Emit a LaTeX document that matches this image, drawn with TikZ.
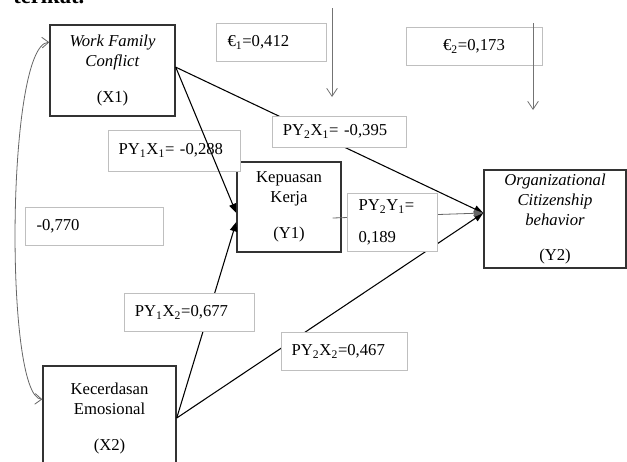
\documentclass[tikz,border=0pt]{standalone}
\usepackage{fontspec}
\setmainfont{Liberation Serif}
\usetikzlibrary{arrows.meta}
\begin{document}
\begin{tikzpicture}[x=0.75pt,y=-0.75pt,
  font=\fontsize{12.5}{15}\selectfont,
  varbox/.style={draw=black!80,line width=1.1pt,align=center,inner sep=0pt},
  coefbox/.style={draw=black!25,line width=0.6pt,fill=white,align=left,inner xsep=8pt,inner ysep=0pt},
  effarrow/.style={-{Triangle[length=7pt,width=5.5pt]},line width=0.8pt},
  erroarrow/.style={-{Straight Barb[length=6pt,width=8pt]},draw=black!55,line width=0.6pt}]
\useasboundingbox (0,0) rectangle (627,461);

\node[font=\fontsize{17}{20}\selectfont\bfseries,anchor=base west,inner sep=0pt] (lead) at (13,3) {terikat.};

% variables
\node[varbox,minimum width=93.75pt,minimum height=68.25pt] (X1) at (112.5,70.5) {\textit{Work Family}\\\textit{Conflict}\\[12pt](X1)};
\node[varbox,minimum width=78pt,minimum height=67.5pt] (Y1) at (289,207) {Kepuasan\\Kerja\\[12pt](Y1)};
\node[varbox,minimum width=106.5pt,minimum height=73.5pt] (Y2) at (555,219) {\textit{Organizational}\\\textit{Citizenship}\\\textit{behavior}\\[11pt](Y2)};
\node[varbox,minimum width=99.75pt,minimum height=78pt] (X2) at (109.5,418) {Kecerdasan\\Emosional\\[12pt](X2)};

% paths behind the labels
\draw[effarrow] ([yshift=2.5pt]X1.east) -- ([yshift=4.5pt]Y2.west);
\draw[effarrow] (X2.east) -- ([yshift=-11.25pt]Y1.west);
\draw[effarrow] (X2.east) -- ([yshift=4.5pt]Y2.west);
\draw[effarrow,draw=black!60,line width=0.6pt] ([xshift=-6.75pt,yshift=-8.25pt]Y1.east) -- ([yshift=4.5pt]Y2.west);

% coefficients
\node[coefbox,text width=83pt,minimum height=30.75pt] (b11) at (174,150.5) {PY\textsubscript{1}X\textsubscript{1}= -0,288};
\node[coefbox,text width=85pt,minimum height=23.25pt] (b21) at (339.5,131.5) {PY\textsubscript{2}X\textsubscript{1}= -0,395};
\node[coefbox,text width=82pt,minimum height=29pt] (b12) at (189.5,312.5) {PY\textsubscript{1}X\textsubscript{2}=0,677};
\node[coefbox,text width=78.5pt,minimum height=29pt] (b22) at (344,351.5) {PY\textsubscript{2}X\textsubscript{2}=0,467};
\node[coefbox,text width=51pt,minimum height=44pt] (byy) at (392.5,222.5) {PY\textsubscript{2}Y\textsubscript{1}=\\[9pt]0,189};
\node[coefbox,text width=87pt,minimum height=28.5pt] (corr) at (94.5,226) {-0,770};
\node[coefbox,text width=66pt,minimum height=29pt] (e1) at (271.5,42.5) {€\textsubscript{1}=0,412};
\node[coefbox,align=center,text width=86pt,minimum height=29pt] (e2) at (474,46.5) {€\textsubscript{2}=0,173};

\draw[effarrow] ([yshift=2.5pt]X1.east) -- ([yshift=-4.5pt]Y1.west);

% residuals
\coordinate (e1a) at (332,8);
\coordinate (e1b) at (332,97);
\draw[erroarrow] (e1a) -- (e1b);
\coordinate (e2a) at (533,23);
\coordinate (e2b) at (533,110);
\draw[erroarrow] (e2a) -- (e2b);

\draw[{Straight Barb[length=5pt,width=8pt]}-{Straight Barb[length=5pt,width=8pt]},draw=black!60,line width=0.6pt] ([yshift=-13.5pt]X1.north west) .. controls +(-43,2) and +(-38,-2) .. ([yshift=-25.5pt]X2.north west);
\end{tikzpicture}
\end{document}
